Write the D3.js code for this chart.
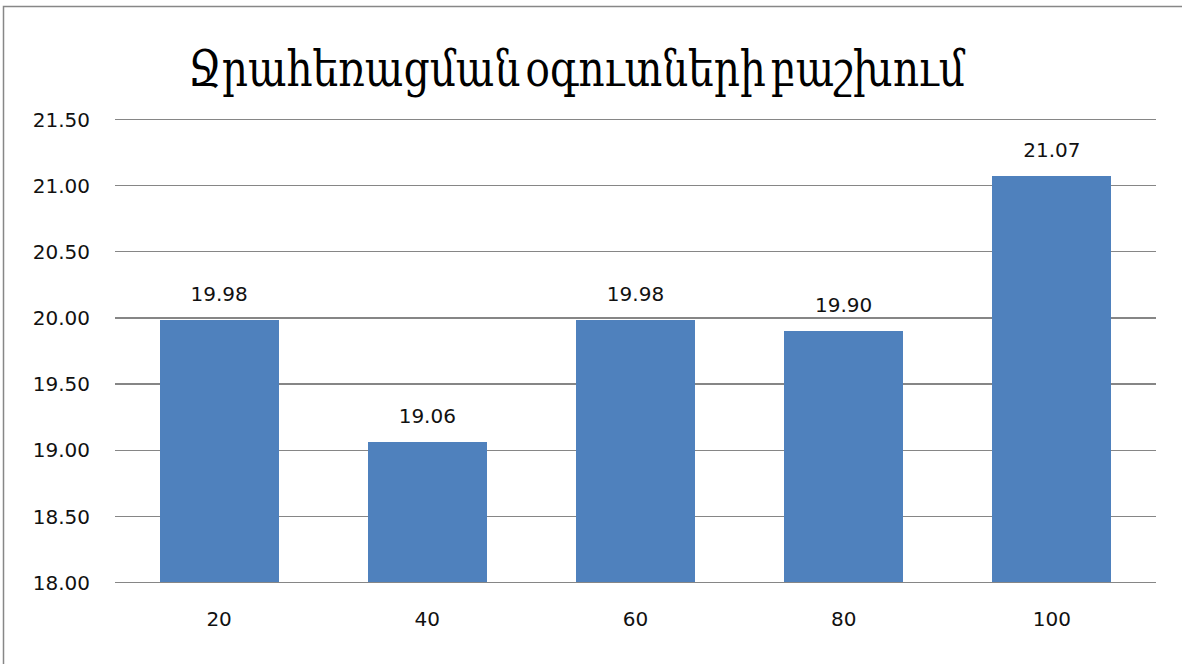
<!DOCTYPE html>
<html>
<head>
<meta charset="utf-8">
<script src="https://cdn.jsdelivr.net/npm/d3@7"></script>
<style>
  html, body { margin: 0; padding: 0; background: #fff; }
  svg { display: block; }
</style>
</head>
<body>
<svg id="chart" width="1182" height="664"></svg>
<script>
// Drainage benefit distribution, by category
const titleText = "Ջրահեռացման օգուտների բաշխում";
const categories = ["20", "40", "60", "80", "100"];
const values = [19.98, 19.06, 19.98, 19.90, 21.07];
const yTicks = [18.0, 18.5, 19.0, 19.5, 20.0, 20.5, 21.0, 21.5];

const svg = d3.select("#chart");
const W = 1182, H = 664;
const plot = { left: 115, right: 1156, top: 119, bottom: 582 };

const barColor = "#4F81BD";
const gridColor = "#868686";
const font = "'DejaVu Sans', Verdana, sans-serif";

// outer frame (only top and left edges fall inside the canvas)
svg.append("path")
  .attr("d", `M3.5,${H} V6.5 H${W}`)
  .attr("fill", "none")
  .attr("stroke", "#878787")
  .attr("stroke-width", 1.5);

const x = d3.scaleBand()
  .domain(categories)
  .range([plot.left, plot.right])
  .paddingInner(0.428)
  .paddingOuter(0.214);

const y = d3.scaleLinear()
  .domain([18, 21.5])
  .range([plot.bottom, plot.top]);

// horizontal gridlines
const yAxis = d3.axisLeft(y)
  .tickValues(yTicks)
  .tickSize(-(plot.right - plot.left))
  .tickPadding(25)
  .tickFormat(d3.format(".2f"));

const gy = svg.append("g")
  .attr("transform", `translate(${plot.left},0)`)
  .call(yAxis);
gy.select(".domain").remove();
gy.selectAll(".tick line")
  .attr("stroke", gridColor)
  .attr("stroke-width", 1.3)
  .attr("shape-rendering", "crispEdges");
gy.selectAll(".tick text")
  .attr("font-family", font)
  .attr("font-size", 20)
  .attr("fill", "#111")
  .attr("dy", "0.36em");

// bars
svg.append("g").selectAll("rect")
  .data(values)
  .join("rect")
  .attr("x", (d, i) => x(categories[i]))
  .attr("width", x.bandwidth())
  .attr("y", d => y(d))
  .attr("height", d => y(18) - y(d))
  .attr("fill", barColor)
  .attr("shape-rendering", "crispEdges");

// value labels above bars
svg.append("g").selectAll("text")
  .data(values)
  .join("text")
  .attr("x", (d, i) => x(categories[i]) + x.bandwidth() / 2)
  .attr("y", d => y(d) - 19)
  .attr("text-anchor", "middle")
  .attr("font-family", font)
  .attr("font-size", 20)
  .attr("fill", "#111")
  .text(d => d3.format(".2f")(d));

// category axis
const xAxis = d3.axisBottom(x).tickSize(0).tickPadding(30);
const gx = svg.append("g")
  .attr("transform", `translate(0,${plot.bottom})`)
  .call(xAxis);
gx.select(".domain").remove();
gx.selectAll(".tick text")
  .attr("font-family", font)
  .attr("font-size", 20)
  .attr("fill", "#111")
  .attr("dy", "0.71em");

// title
svg.append("text")
  .attr("x", 188)
  .attr("y", 86)
  .attr("font-family", "'DejaVu Serif', serif")
  .attr("font-size", 50)
  .attr("word-spacing", -10)
  .attr("fill", "#000")
  .attr("textLength", 777)
  .attr("lengthAdjust", "spacingAndGlyphs")
  .text(titleText);
</script>
</body>
</html>
